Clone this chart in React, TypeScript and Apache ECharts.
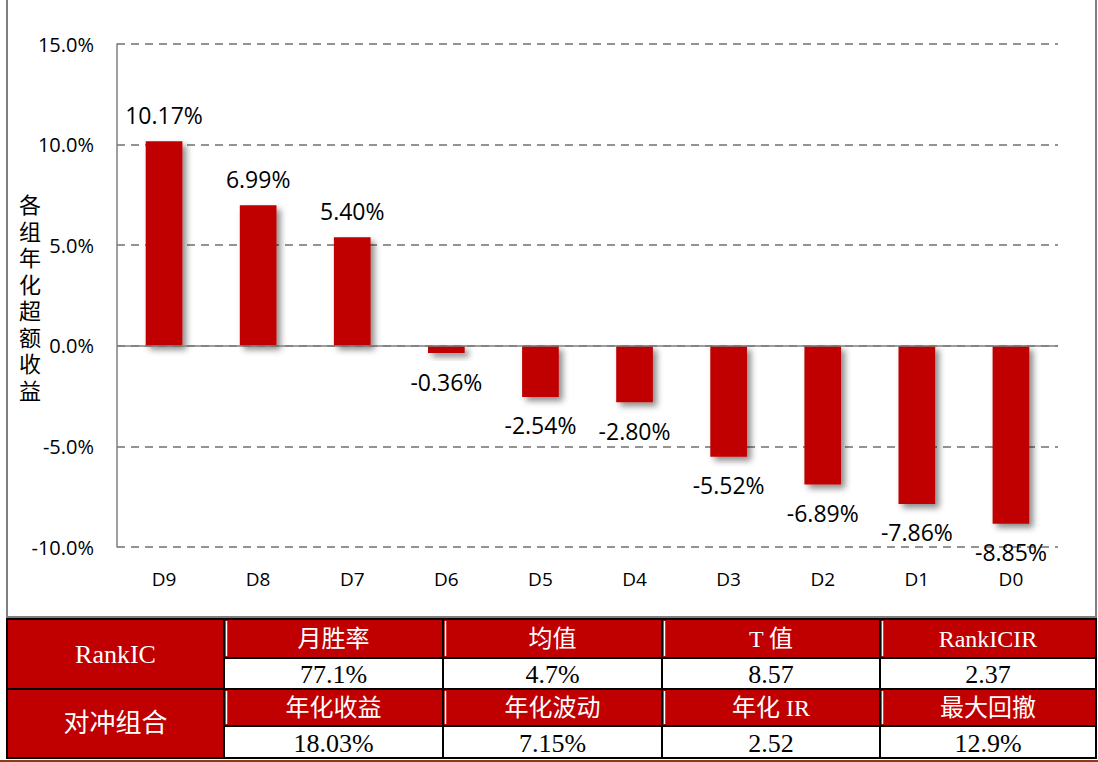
import React, { useEffect, useRef } from "react";
import * as echarts from "echarts";

const categories = ["D9", "D8", "D7", "D6", "D5", "D4", "D3", "D2", "D1", "D0"];
const values = [10.17, 6.99, 5.4, -0.36, -2.54, -2.8, -5.52, -6.89, -7.86, -8.85];
const yTicks = { min: -10, max: 15, interval: 5 };
const yAxisName = "各组年化超额收益";

const rowHeaders = ["RankIC", "对冲组合"];
const colHeaders = [
  ["月胜率", "均值", "T 值", "RankICIR"],
  ["年化收益", "年化波动", "年化 IR", "最大回撤"],
];
const cellValues = [
  ["77.1%", "4.7%", "8.57", "2.37"],
  ["18.03%", "7.15%", "2.52", "12.9%"],
];

const RED = "#C00000";
const SERIF = "'Liberation Serif', 'Noto Sans CJK SC', serif";
const SANS = "'Open Sans', 'Noto Sans', 'Noto Sans CJK SC', sans-serif";

export default function App() {
  const ref = useRef<HTMLDivElement>(null);
  useEffect(() => {
    document.body.style.margin = "0";
    const chart = echarts.init(ref.current!, null, { renderer: "svg" });

    const colX = [7, 224, 443, 662, 880, 1096];
    const groupY = [
      [619, 658, 689],
      [689, 726, 758],
    ];
    const graphics: any[] = [];
    graphics.push({
      type: "polyline",
      shape: { points: [[7, 0], [7, 617], [1096, 617], [1096, 0]] },
      style: { stroke: "#7f7f7f", lineWidth: 2, fill: "none" },
    });
    const nameChars = yAxisName.split("");
    nameChars.forEach((ch, i) => {
      graphics.push({
        type: "text",
        x: 30,
        y: 204 + i * 26.5,
        style: {
          text: ch,
          font: `22px ${SANS}`,
          lineHeight: 24,
          fill: "#000",
          align: "center",
          verticalAlign: "middle",
        },
      });
    });
    graphics.push({
      type: "rect",
      shape: { x: colX[0], y: 618, width: colX[5] - colX[0], height: 141 },
      style: { fill: "#fff" },
    });
    for (let g = 0; g < 2; g++) {
      const [y0, y1, y2] = groupY[g];
      graphics.push({
        type: "rect",
        shape: { x: colX[0], y: y0, width: colX[1] - colX[0], height: y2 - y0 },
        style: { fill: RED, stroke: "#000", lineWidth: 2 },
      });
      graphics.push({
        type: "text",
        x: (colX[0] + colX[1]) / 2,
        y: (y0 + y2) / 2,
        style: {
          text: rowHeaders[g],
          font: `26px ${SERIF}`,
          fill: "#fff",
          align: "center",
          verticalAlign: "middle",
        },
      });
      for (let c = 0; c < 4; c++) {
        const x0 = colX[c + 1];
        const x1 = colX[c + 2];
        graphics.push({
          type: "rect",
          shape: { x: x0, y: y0, width: x1 - x0, height: y1 - y0 },
          style: { fill: RED, stroke: "#000", lineWidth: 2 },
        });
        graphics.push({
          type: "line",
          shape: { x1: x0 + 2.5, y1: y0 + 2, x2: x0 + 2.5, y2: y1 - 2 },
          style: { stroke: "#fff", lineWidth: 1.5 },
        });
        graphics.push({
          type: "rect",
          shape: { x: x0, y: y1, width: x1 - x0, height: y2 - y1 },
          style: { fill: "#fff", stroke: "#000", lineWidth: 2 },
        });
        graphics.push({
          type: "text",
          x: (x0 + x1) / 2,
          y: (y0 + y1) / 2,
          style: {
            text: colHeaders[g][c],
            font: `24px ${SERIF}`,
            fill: "#fff",
            align: "center",
            verticalAlign: "middle",
          },
        });
        graphics.push({
          type: "text",
          x: (x0 + x1) / 2,
          y: (y1 + y2) / 2 + 1,
          style: {
            text: cellValues[g][c],
            font: `26px ${SERIF}`,
            fill: "#000",
            align: "center",
            verticalAlign: "middle",
          },
        });
      }
    }
    graphics.push({
      type: "line",
      shape: { x1: 0, y1: 761, x2: 1098, y2: 761 },
      style: { stroke: "#8B3A1A", lineWidth: 2 },
    });

    chart.setOption({
      animation: false,
      backgroundColor: "#fff",
      grid: { left: 117, right: 40, top: 44, bottom: 215 },
      xAxis: {
        type: "category",
        data: categories,
        axisLine: { show: false },
        axisTick: { show: false },
        axisLabel: {
          margin: 22,
          fontSize: 19,
          color: "#000",
          fontFamily: SANS,
        },
      },
      yAxis: {
        type: "value",
        min: yTicks.min,
        max: yTicks.max,
        interval: yTicks.interval,
        axisLine: { show: true, lineStyle: { color: "#7f7f7f", width: 1.5 } },
        axisTick: { show: false },
        axisLabel: {
          formatter: (v: number) => v.toFixed(1) + "%",
          fontSize: 20,
          color: "#000",
          fontFamily: SANS,
          margin: 23,
        },
        splitLine: {
          show: true,
          lineStyle: { color: "#707070", type: [8, 6], width: 1.5 },
        },
      },
      graphic: graphics,
      series: [
        {
          type: "bar",
          data: values.map((v) => ({
            value: v,
            label: {
              position: v >= 0 ? "top" : "bottom",
              distance: v >= 0 ? 15 : 17,
            },
          })),
          barWidth: "39%",
          itemStyle: {
            color: RED,
            shadowColor: "rgba(0,0,0,0.45)",
            shadowBlur: 6,
            shadowOffsetX: 4,
            shadowOffsetY: 4,
          },
          label: {
            show: true,
            formatter: (p: any) => p.value.toFixed(2) + "%",
            fontSize: 23,
            color: "#000",
            fontFamily: SANS,
          },
          markLine: {
            silent: true,
            symbol: "none",
            label: { show: false },
            lineStyle: { color: "#7f7f7f", type: "solid", width: 1.5 },
            data: [{ yAxis: 0 }],
          },
        },
      ],
    });
    return () => chart.dispose();
  }, []);
  return <div ref={ref} style={{ width: 1098, height: 762 }} />;
}
